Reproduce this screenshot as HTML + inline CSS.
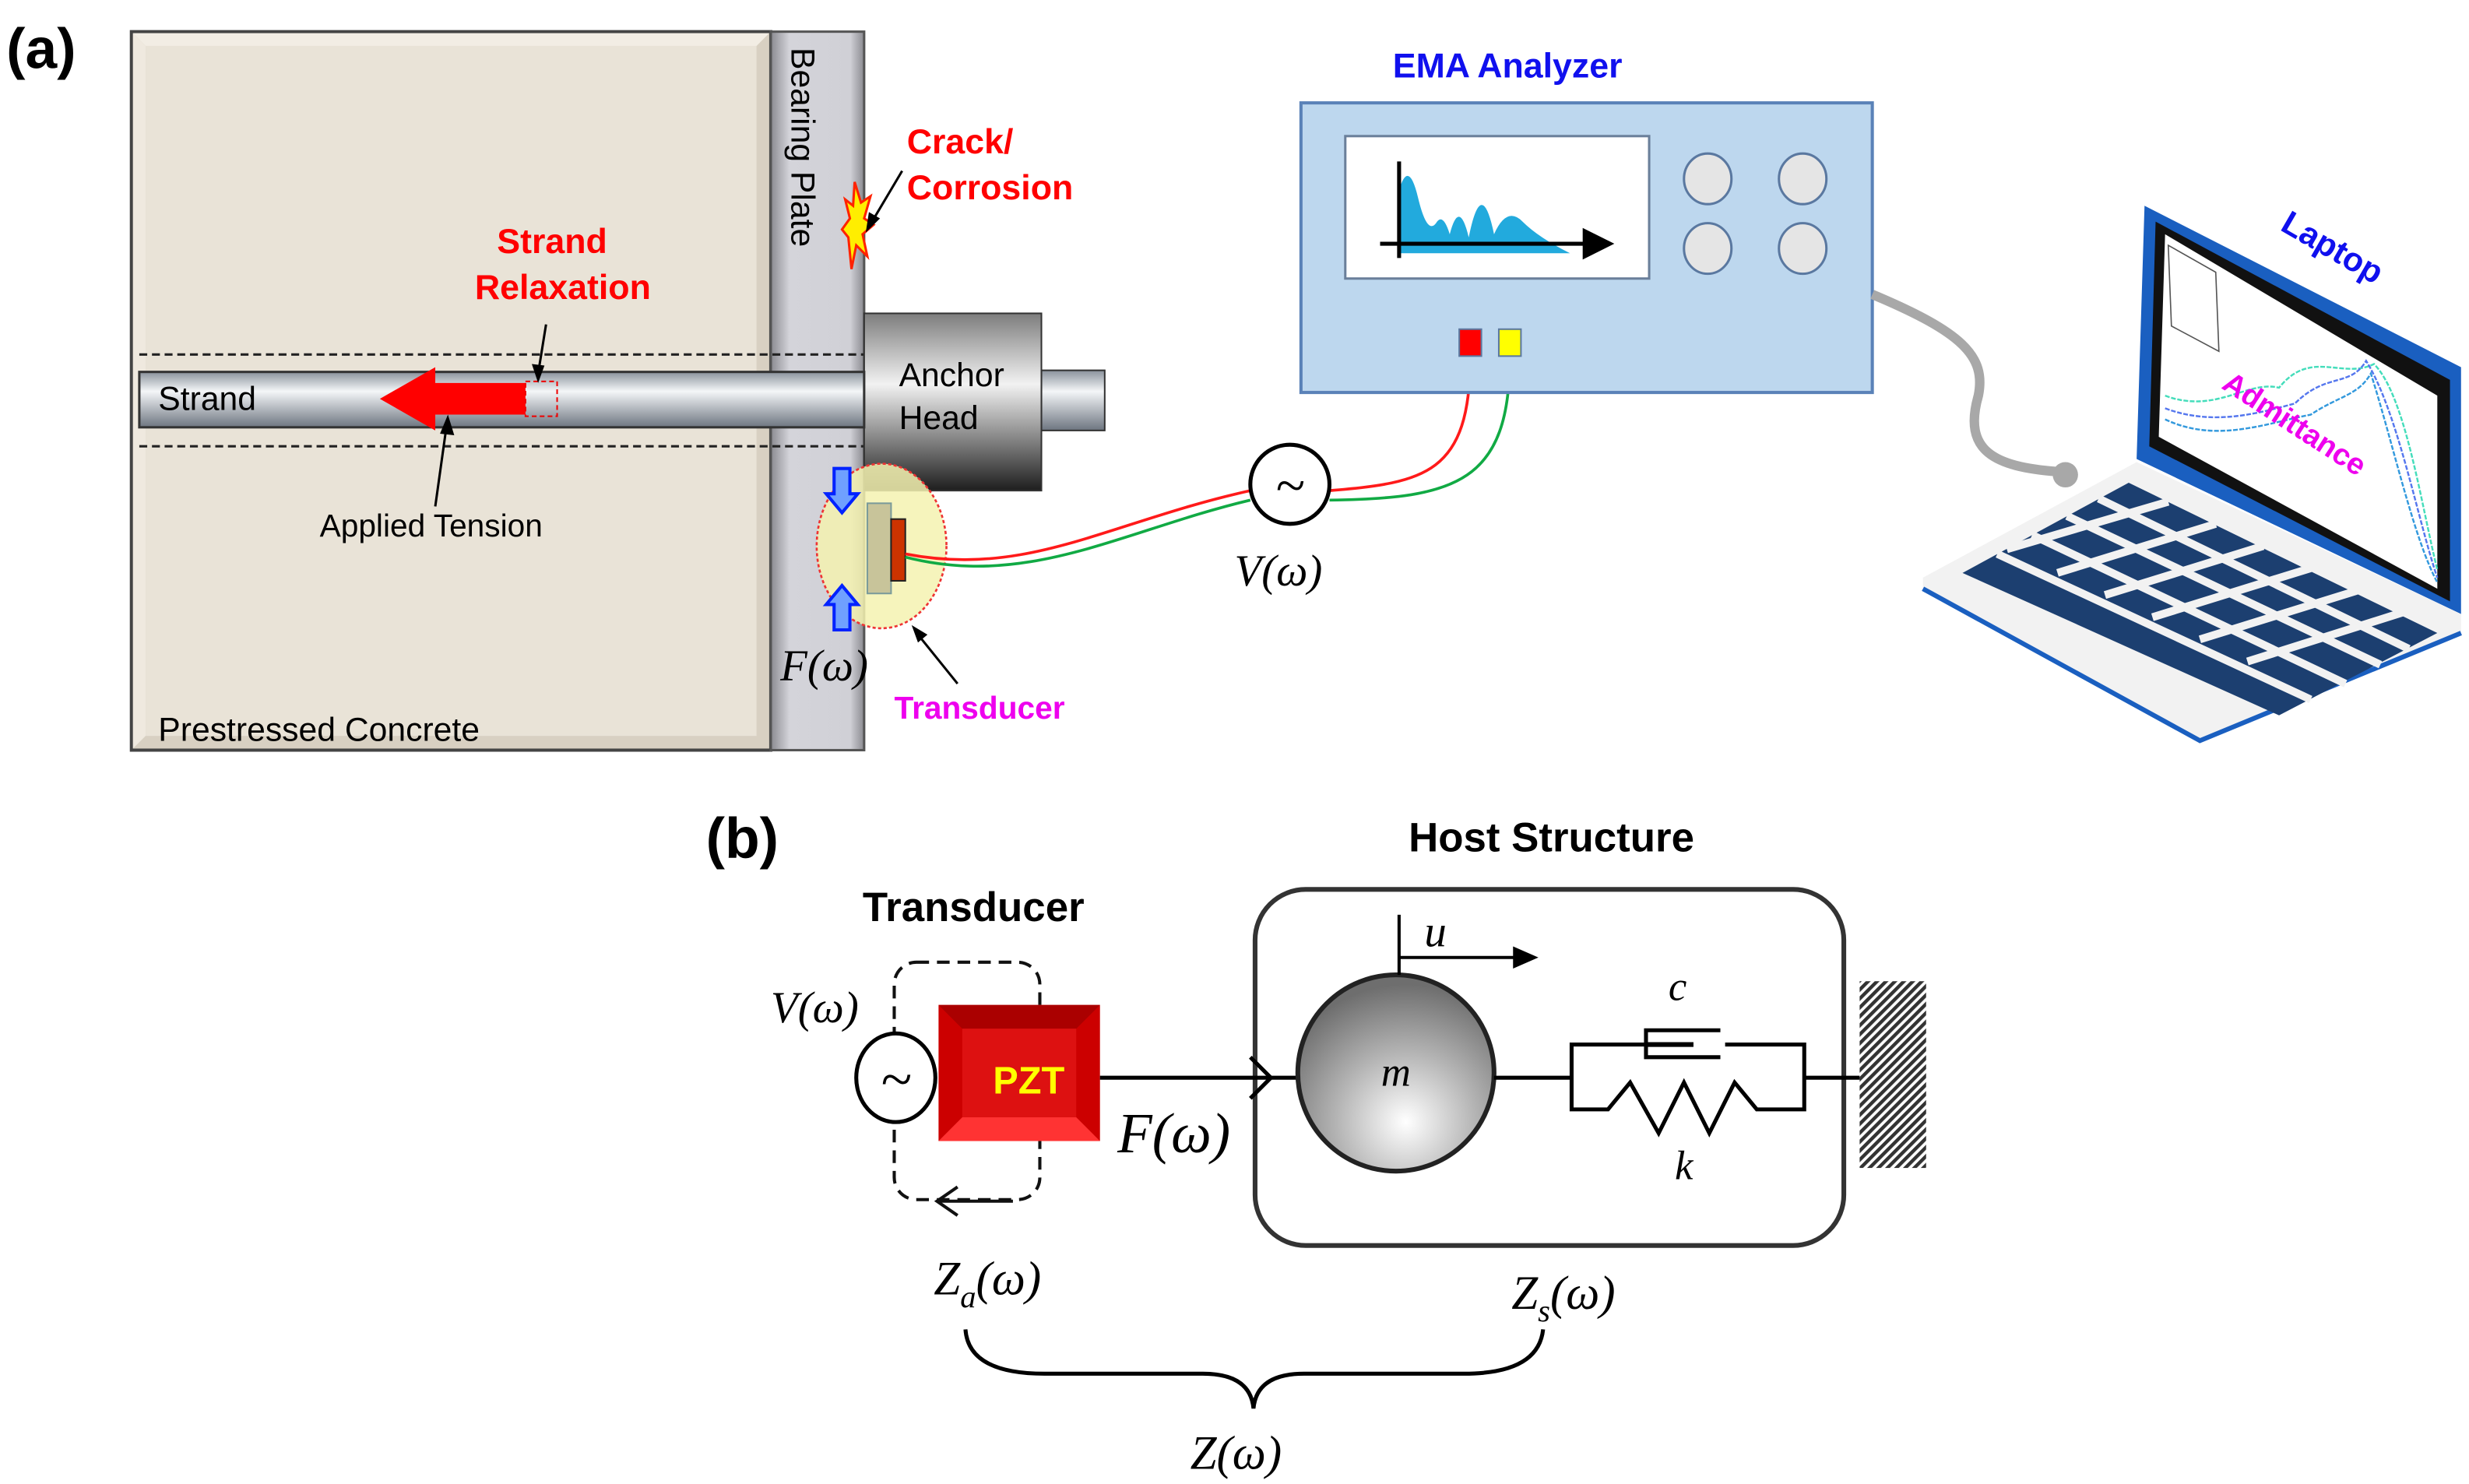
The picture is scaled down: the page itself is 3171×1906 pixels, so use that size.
<!DOCTYPE html>
<html><head><meta charset="utf-8"><style>
html,body{margin:0;padding:0;background:#fff}
svg{display:block}
.s{font-family:"Liberation Sans",Arial,sans-serif}
.m{font-family:"Liberation Serif",serif;font-style:italic}
</style></head><body>
<svg width="3171" height="1906" viewBox="0 0 1560 937.7" xmlns="http://www.w3.org/2000/svg">
<defs>
<linearGradient id="strand" x1="0" y1="0" x2="0" y2="1">
<stop offset="0" stop-color="#8a929c"/><stop offset="0.35" stop-color="#f4f6f8"/><stop offset="1" stop-color="#6d7580"/></linearGradient>
<linearGradient id="anchor" x1="0" y1="0" x2="0" y2="1">
<stop offset="0" stop-color="#7d7d7d"/><stop offset="0.4" stop-color="#f2f2f2"/><stop offset="1" stop-color="#1e1e1e"/></linearGradient>
<linearGradient id="plate" x1="0" y1="0" x2="1" y2="0">
<stop offset="0" stop-color="#8a8a90"/><stop offset="0.2" stop-color="#d4d4da"/><stop offset="0.85" stop-color="#d0d0d6"/><stop offset="1" stop-color="#8a8a90"/></linearGradient>
<radialGradient id="mass" cx="0.55" cy="0.75" r="0.7">
<stop offset="0" stop-color="#ffffff"/><stop offset="0.5" stop-color="#b5b5b5"/><stop offset="1" stop-color="#6e6e6e"/></radialGradient>
<pattern id="hatch" width="4" height="4" patternUnits="userSpaceOnUse" patternTransform="rotate(45)">
<rect width="4" height="4" fill="#fff"/><rect width="2.2" height="4" fill="#333"/></pattern>
</defs>

<!-- (a) -->
<text x="4" y="43" class="s" font-size="36" font-weight="bold">(a)</text>
<rect x="83" y="20" width="404" height="454" fill="#d8d0c2" stroke="#444" stroke-width="2"/>
<polygon points="84,21 486,21 478,29 92,29" fill="#f2ede4"/>
<polygon points="84,21 92,29 92,465 84,473" fill="#efe9df"/>
<rect x="92" y="29" width="386" height="436" fill="#e9e3d7"/>
<rect x="487" y="20" width="59" height="454" fill="url(#plate)" stroke="#555" stroke-width="1.5"/>
<text transform="translate(500,30) rotate(90)" class="s" font-size="21">Bearing Plate</text>
<line x1="88" y1="224" x2="546" y2="224" stroke="#222" stroke-width="1.5" stroke-dasharray="5,3"/>
<line x1="88" y1="282" x2="546" y2="282" stroke="#222" stroke-width="1.5" stroke-dasharray="5,3"/>
<rect x="658" y="234" width="40" height="38" fill="url(#strand)" stroke="#333"/>
<rect x="546" y="198" width="112" height="112" fill="url(#anchor)" stroke="#333"/>
<rect x="88" y="235" width="458" height="35" fill="url(#strand)" stroke="#333" stroke-width="1.5"/>
<text x="568" y="244" class="s" font-size="21">Anchor</text>
<text x="568" y="271" class="s" font-size="21">Head</text>
<text x="100" y="259" class="s" font-size="21">Strand</text>
<polygon points="240,252 275,232 275,242 332,242 332,262 275,262 275,272" fill="#ff0000"/>
<rect x="332" y="241" width="20" height="22" fill="none" stroke="#e00" stroke-dasharray="3,2"/>
<text x="314" y="160" class="s" font-size="22" font-weight="bold" fill="#ff0000">Strand</text>
<text x="300" y="189" class="s" font-size="22" font-weight="bold" fill="#ff0000">Relaxation</text>
<line x1="345" y1="205" x2="340" y2="236" stroke="#000" stroke-width="1.5"/>
<polygon points="340,242 336,230 344,231" fill="#000"/>
<text x="202" y="339" class="s" font-size="20">Applied Tension</text>
<line x1="275" y1="320" x2="282" y2="270" stroke="#000" stroke-width="1.5"/>
<polygon points="283,262 278,274 287,275" fill="#000"/>
<polygon points="540,115 544,128 550,124 546,138 552,142 545,148 548,162 541,155 538,170 536,150 532,145 537,138 534,126 539,130" fill="#ffee00" stroke="#ff2200" stroke-width="1.5"/>
<text x="573" y="97" class="s" font-size="22" font-weight="bold" fill="#ff0000">Crack/</text>
<text x="573" y="126" class="s" font-size="22" font-weight="bold" fill="#ff0000">Corrosion</text>
<line x1="570" y1="108" x2="551" y2="140" stroke="#000" stroke-width="1.5"/>
<polygon points="547,147 549,134 556,138" fill="#000"/>
<ellipse cx="557" cy="345" rx="41" ry="52" fill="#f5f2b0" fill-opacity="0.85" stroke="#e33" stroke-width="1.3" stroke-dasharray="2,1.5"/>
<rect x="548" y="318" width="15" height="57" fill="#c8c49a" stroke="#7a9a9a"/>
<rect x="563" y="328" width="9" height="39" fill="#cc3300" stroke="#222"/>
<polygon points="527,296 537,296 537,312 542,312 532,324 522,312 527,312" fill="#6fa0ff" stroke="#0022ff" stroke-width="2"/>
<polygon points="527,398 537,398 537,382 542,382 532,370 522,382 527,382" fill="#6fa0ff" stroke="#0022ff" stroke-width="2"/>
<text x="493" y="430" class="m" font-size="28">F(ω)</text>
<text x="565" y="454" class="s" font-size="20" font-weight="bold" fill="#ee00ee">Transducer</text>
<line x1="605" y1="432" x2="580" y2="401" stroke="#000" stroke-width="1.5"/>
<polygon points="576,395 586,401 580,406" fill="#000"/>
<text x="100" y="468" class="s" font-size="21">Prestressed Concrete</text>
<!-- wires -->
<path d="M572,350 C650,365 700,330 790,310" fill="none" stroke="#ff1a1a" stroke-width="1.8"/>
<path d="M572,352 C650,372 710,335 790,316" fill="none" stroke="#11aa44" stroke-width="1.8"/>
<path d="M840,310 C900,305 929,300 929,225" fill="none" stroke="#ff1a1a" stroke-width="1.8"/>
<path d="M840,316 C920,315 954,305 954,225" fill="none" stroke="#11aa44" stroke-width="1.8"/>
<circle cx="815" cy="306" r="25" fill="#fff" stroke="#000" stroke-width="2.5"/>
<text x="815" y="318" class="m" font-size="34" text-anchor="middle" font-style="normal">~</text>
<text x="780" y="370" class="m" font-size="28">V(ω)</text>
<!-- analyzer -->
<text x="880" y="49" class="s" font-size="22" font-weight="bold" fill="#1010ee">EMA Analyzer</text>
<rect x="822" y="65" width="361" height="183" fill="#bdd7ee" stroke="#5a82b8" stroke-width="2"/>
<rect x="850" y="86" width="192" height="90" fill="#fff" stroke="#6a7f9a" stroke-width="1.5"/>
<path d="M884,160 L884,120 Q890,100 896,125 Q902,150 908,140 Q912,135 916,148 Q922,125 928,150 Q936,110 944,148 Q952,130 962,140 Q972,150 992,160 Z" fill="#22aadd"/>
<line x1="884" y1="102" x2="884" y2="163" stroke="#000" stroke-width="2.5"/>
<line x1="872" y1="154" x2="1005" y2="154" stroke="#000" stroke-width="2.5"/>
<polygon points="1020,154 1000,144 1000,164" fill="#000"/>
<g fill="#e5e5e5" stroke="#5a78a0" stroke-width="1.5">
<ellipse cx="1079" cy="113" rx="15" ry="16"/><ellipse cx="1139" cy="113" rx="15" ry="16"/>
<ellipse cx="1079" cy="157" rx="15" ry="16"/><ellipse cx="1139" cy="157" rx="15" ry="16"/></g>
<rect x="922" y="208" width="14" height="17" fill="#ff0000" stroke="#5a78a0"/>
<rect x="947" y="208" width="14" height="17" fill="#ffff00" stroke="#5a78a0"/>
<path d="M1183,186 C1240,210 1255,225 1250,250 C1240,285 1260,295 1300,298" fill="none" stroke="#a8a8a8" stroke-width="6"/>
<circle cx="1305" cy="300" r="8" fill="#a8a8a8"/>
<!-- laptop -->
<polygon points="1355,130 1555,232 1555,388 1350,290" fill="#1a5fc0"/>
<polygon points="1362,140 1548,240 1548,380 1358,282" fill="#111"/>
<polygon points="1368,148 1540,250 1540,372 1364,276" fill="#fff"/>
<polygon points="1370,155 1400,172 1402,222 1372,206" fill="#fff" stroke="#555" stroke-width="0.8"/>
<path d="M1368,250 C1400,262 1420,240 1440,245 C1460,220 1480,240 1500,230 C1520,250 1530,320 1540,360" fill="none" stroke="#44ddbb" stroke-width="1.2" stroke-dasharray="3,1"/>
<path d="M1368,258 C1400,270 1430,260 1450,255 C1470,235 1485,245 1495,228 C1515,260 1528,330 1540,365" fill="none" stroke="#5577ee" stroke-width="1.2" stroke-dasharray="3,1"/>
<path d="M1368,265 C1400,280 1430,268 1460,262 C1478,250 1490,250 1498,236 C1512,280 1525,340 1540,368" fill="none" stroke="#3399dd" stroke-width="1.2" stroke-dasharray="3,1"/>
<text transform="translate(1440,145) rotate(30)" class="s" font-size="21" font-weight="bold" fill="#1010ee">Laptop</text>
<text transform="translate(1403,245) rotate(33)" class="s" font-size="19" font-weight="bold" fill="#ee00ee">Admittance</text>
<polygon points="1215,365 1350,292 1555,388 1555,400 1390,468 1215,372" fill="#f2f2f2"/>
<polyline points="1215,372 1390,468 1555,400" fill="none" stroke="#1a5fc0" stroke-width="3"/>
<g fill="#1c3f70">
<polygon points="1240,362 1345,305 1540,400 1440,452"/>
</g>
<g stroke="#f2f2f2" stroke-width="5">
<line x1="1262" y1="350" x2="1460" y2="442"/><line x1="1284" y1="338" x2="1482" y2="432"/><line x1="1306" y1="326" x2="1504" y2="420"/><line x1="1326" y1="315" x2="1522" y2="410"/>
<line x1="1268" y1="347" x2="1370" y2="317"/><line x1="1300" y1="362" x2="1400" y2="331"/><line x1="1330" y1="376" x2="1430" y2="345"/><line x1="1360" y1="390" x2="1460" y2="359"/><line x1="1390" y1="404" x2="1490" y2="373"/><line x1="1420" y1="418" x2="1518" y2="387"/>
</g>

<!-- (b) -->
<text x="446" y="542" class="s" font-size="36" font-weight="bold">(b)</text>
<text x="545" y="582" class="s" font-size="26" font-weight="bold">Transducer</text>
<text x="890" y="538" class="s" font-size="26" font-weight="bold">Host Structure</text>
<rect x="793" y="562" width="372" height="225" rx="32" fill="none" stroke="#333" stroke-width="3"/>
<rect x="565" y="608" width="92" height="150" rx="14" fill="none" stroke="#111" stroke-width="2" stroke-dasharray="8,5"/>
<line x1="640" y1="759" x2="592" y2="759" stroke="#111" stroke-width="2"/>
<polyline points="605,750 592,759 605,768" fill="none" stroke="#111" stroke-width="2"/>
<ellipse cx="566" cy="681" rx="25" ry="28" fill="#fff" stroke="#000" stroke-width="2.5"/>
<text x="566" y="694" class="m" font-size="36" text-anchor="middle" font-style="normal">~</text>
<text x="487" y="646" class="m" font-size="28">V(ω)</text>
<rect x="593" y="635" width="102" height="86" fill="#cc0000"/>
<polygon points="593,635 695,635 680,650 608,650" fill="#aa0000"/>
<polygon points="593,721 695,721 680,706 608,706" fill="#ff3333"/>
<rect x="608" y="650" width="72" height="56" fill="#dd1111"/>
<text x="650" y="691" class="s" font-size="24" font-weight="bold" fill="#ffff00" text-anchor="middle">PZT</text>
<line x1="695" y1="681" x2="822" y2="681" stroke="#000" stroke-width="2.5"/>
<polyline points="790,668 803,681 790,694" fill="none" stroke="#000" stroke-width="2.5"/>
<text x="706" y="728" class="m" font-size="36">F(ω)</text>
<ellipse cx="882" cy="678" rx="62" ry="62" fill="url(#mass)" stroke="#222" stroke-width="3"/>
<text x="882" y="686" class="m" font-size="26" text-anchor="middle">m</text>
<line x1="884" y1="578" x2="884" y2="616" stroke="#000" stroke-width="2"/>
<line x1="884" y1="605" x2="958" y2="605" stroke="#000" stroke-width="2"/>
<polygon points="972,605 956,598 956,612" fill="#000"/>
<text x="900" y="598" class="m" font-size="28">u</text>
<line x1="944" y1="681" x2="993" y2="681" stroke="#000" stroke-width="2.5"/>
<polyline points="1040,660 993,660 993,701 1016,701 1030,684 1048,716 1064,684 1080,716 1096,684 1110,701 1140,701 1140,660 1090,660" fill="none" stroke="#000" stroke-width="2.5"/>
<polyline points="1087,651 1040,651 1040,668 1087,668" fill="none" stroke="#000" stroke-width="2.5"/>
<line x1="1040" y1="660" x2="1070" y2="660" stroke="#000" stroke-width="3"/>
<line x1="1140" y1="681" x2="1175" y2="681" stroke="#000" stroke-width="2.5"/>
<text x="1060" y="632" class="m" font-size="26" text-anchor="middle">c</text>
<text x="1064" y="745" class="m" font-size="26" text-anchor="middle">k</text>
<rect x="1175" y="620" width="42" height="118" fill="url(#hatch)"/>
<text x="590" y="818" class="m" font-size="30">Z<tspan font-size="20" dy="8">a</tspan><tspan dy="-8">(ω)</tspan></text>
<text x="955" y="827" class="m" font-size="30">Z<tspan font-size="20" dy="8">s</tspan><tspan dy="-8">(ω)</tspan></text>
<path d="M610,840 Q612,868 660,868 L760,868 Q790,868 792,890 Q794,868 824,868 L925,868 Q972,868 975,840" fill="none" stroke="#000" stroke-width="2.5"/>
<text x="752" y="928" class="m" font-size="30">Z(ω)</text>
</svg>
</body></html>
